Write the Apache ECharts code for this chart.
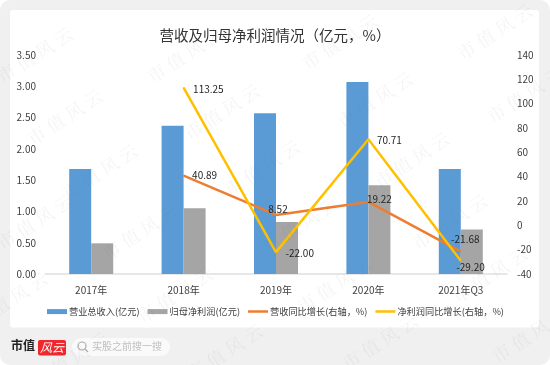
<!DOCTYPE html>
<html><head><meta charset="utf-8">
<style>html,body{margin:0;padding:0;background:#fff}#c{width:550px;height:365px}</style>
<script src="https://cdn.jsdelivr.net/npm/echarts@6/dist/echarts.min.js"></script>
</head><body><div id="c"></div>
<script>
const categories = ['2017年','2018年','2019年','2020年','2021年Q3'];
const revenue = [1.68,2.37,2.57,3.07,1.68];
const profit = [0.49,1.05,0.83,1.42,0.71];
const revenueGrowth = [null,40.89,8.52,19.22,-21.68];
const profitGrowth = [null,113.25,-22.00,70.71,-29.20];
const watermarkSpots = [[35,55],[185,55],[340,42],[495,32],[65,117],[222,112],[375,100],[525,95],[100,172],[262,168],[412,160],[35,222],[140,232],[300,225],[450,222],[10,300],[175,295],[335,285],[490,275],[70,360],[225,352],[380,342],[530,335]];
const font = '"Noto Sans CJK SC","Noto Sans",sans-serif';
const ink = '#404040';
const thinIcon = 'path://M0,0H0ZM400,100H400ZM0,25H400V75H0Z';
const chart = echarts.init(document.getElementById('c'),null,{renderer:'canvas'});
const fmt = v => v.toFixed(2);
function lineLabels(values, cfg){
  return values.map((v,i)=> v===null ? null : {value:v,label:{show:true,formatter:fmt(v),position:cfg[i].p,offset:cfg[i].o,color:'#262626',fontSize:10,fontFamily:font}});
}
chart.setOption({
  animation:false,
  backgroundColor:'#fff',
  title:{text:'营收及归母净利润情况（亿元，%）',left:'center',top:23,textStyle:{fontSize:14.5,fontWeight:'normal',color:'#333',fontFamily:font}},
  grid:{left:45,right:43,top:55,bottom:91},
  legend:{left:47,top:307,width:500,padding:0,itemWidth:20,itemHeight:5,itemGap:8,textStyle:{fontSize:9.2,color:ink,fontFamily:font,padding:[0,0,0,-3]},
    data:[{name:'营业总收入(亿元)',icon:'rect'},{name:'归母净利润(亿元)',icon:'rect'},{name:'营收同比增长(右轴，%)',icon:thinIcon,itemStyle:{color:'#ed7d31'}},{name:'净利润同比增长(右轴，%)',icon:thinIcon,itemStyle:{color:'#ffc000'}}]},
  xAxis:{type:'category',data:categories,axisTick:{show:false},axisLine:{lineStyle:{color:'#e0e0e0',width:1.5}},axisLabel:{color:ink,fontSize:10,fontFamily:font,margin:11}},
  yAxis:[
    {type:'value',min:0,max:3.5,interval:0.5,splitLine:{show:false},axisLine:{show:false},axisTick:{show:false},axisLabel:{color:ink,fontSize:10,fontFamily:font,margin:9,formatter:v=>v.toFixed(2)}},
    {type:'value',min:-40,max:140,interval:20,position:'right',splitLine:{show:false},axisLine:{show:false},axisTick:{show:false},axisLabel:{color:ink,fontSize:10,fontFamily:font,margin:10,align:'left'}}
  ],
  series:[
    {name:'营业总收入(亿元)',type:'bar',data:revenue,barWidth:22,barGap:'0%',itemStyle:{color:'#5b9bd5'}},
    {name:'归母净利润(亿元)',type:'bar',data:profit,barWidth:22,itemStyle:{color:'#a5a5a5'}},
    {name:'营收同比增长(右轴，%)',type:'line',yAxisIndex:1,symbol:'circle',symbolSize:1,showSymbol:true,z:5,lineStyle:{color:'#ed7d31',width:2.5},itemStyle:{color:'#ed7d31'},
      data:lineLabels(revenueGrowth,[null,{p:'right',o:[3,0]},{p:'top',o:[2,5]},{p:'right',o:[-7,-3]},{p:'top',o:[4.5,-2]}])},
    {name:'净利润同比增长(右轴，%)',type:'line',yAxisIndex:1,symbol:'circle',symbolSize:1,showSymbol:true,z:6,lineStyle:{color:'#ffc000',width:2.5},itemStyle:{color:'#ffc000'},
      data:lineLabels(profitGrowth,[null,{p:'right',o:[4,1.5]},{p:'right',o:[4,1]},{p:'right',o:[3,1]},{p:'right',o:[-10,6]}])}
  ],
  graphic:[
    {type:'rect',z:-10,silent:true,shape:{x:0,y:0,width:550,height:365,r:10},style:{fill:'#f0f0f0'}},
    {type:'rect',z:-9,silent:true,shape:{x:10,y:10,width:529,height:317.5,r:3},style:{fill:'#fff'}},
    {type:'text',z:20,left:11,top:341,style:{text:'市值',font:'bold 12px "Liberation Serif","Noto Sans CJK SC",serif',fill:'#222'}},
    {type:'rect',z:20,shape:{x:38,y:340,width:28,height:15.5,r:2},style:{fill:'#f0282d'}},
    {type:'text',z:21,left:40,top:341,style:{text:'风云',font:'italic 12px "Noto Sans CJK SC",sans-serif',fill:'#fff'}},
    {type:'rect',z:20,shape:{x:72,y:338,width:98,height:18,r:9},style:{fill:'#fafafa'}},
    {type:'circle',z:21,shape:{cx:82,cy:346,r:4},style:{fill:'none',stroke:'#aaa',lineWidth:1.2}},
    {type:'line',z:21,shape:{x1:85,y1:349,x2:88,y2:352},style:{stroke:'#aaa',lineWidth:1.2}},
    {type:'text',z:21,left:92,top:341,style:{text:'买股之前搜一搜',font:'10px "Noto Sans CJK SC",sans-serif',fill:'#c0c0c0'}},
    ...watermarkSpots.map(([x,y])=>({type:'text',z:30,silent:true,x:x,y:y,rotation:Math.PI*33/180,
      style:{text:'市 值 风 云',font:'18px "Noto Serif CJK SC","Noto Sans CJK SC",sans-serif',fill:'rgba(120,120,120,0.08)',align:'center',verticalAlign:'middle'}}))
  ]
});
</script></body></html>
